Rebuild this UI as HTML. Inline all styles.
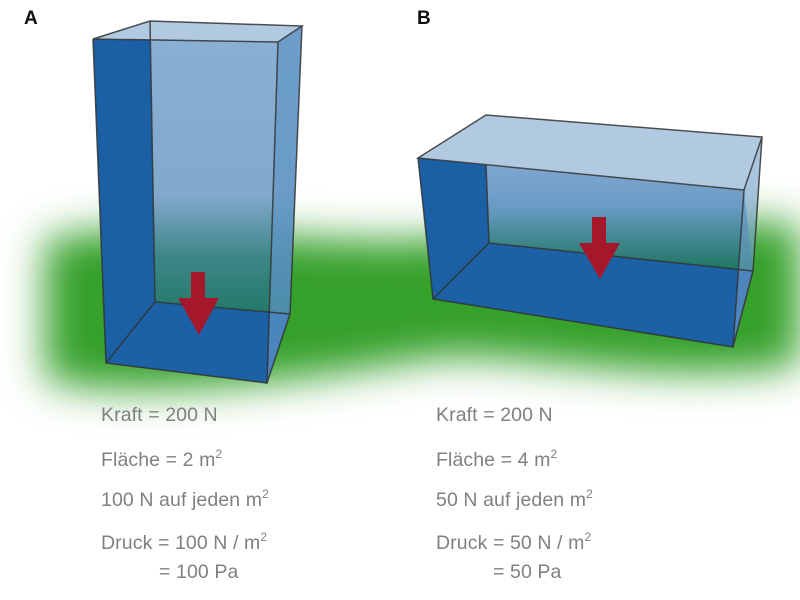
<!DOCTYPE html>
<html><head><style>
body{margin:0;width:800px;height:600px;background:#fff;overflow:hidden;font-family:"Liberation Sans",sans-serif;}
svg{position:absolute;left:0;top:0}
.t{position:absolute;color:#808080;font-size:19.5px;white-space:nowrap;letter-spacing:0.1px}
sup{font-size:12px;vertical-align:8px;line-height:0}
.h{position:absolute;font-weight:bold;font-size:19px;color:#111}
</style></head><body>
<svg width="800" height="600">
<defs>
<filter id="b" x="-20%" y="-60%" width="140%" height="220%"><feGaussianBlur stdDeviation="20"/></filter>
<linearGradient id="ga" x1="0" y1="21" x2="0" y2="314" gradientUnits="userSpaceOnUse">
<stop offset="0" stop-color="#8bb0d5"/><stop offset="0.6" stop-color="#82a8cc"/><stop offset="0.8" stop-color="#3e8788"/><stop offset="1" stop-color="#237868"/></linearGradient>
<linearGradient id="gb" x1="0" y1="165" x2="0" y2="265" gradientUnits="userSpaceOnUse">
<stop offset="0" stop-color="#7ea6cf"/><stop offset="0.4" stop-color="#6b9cc6"/><stop offset="1" stop-color="#237868"/></linearGradient>
</defs>
<path d="M45,240 C150,215 300,245 420,240 C520,235 650,210 800,225 L800,365 C650,390 500,345 420,360 C330,375 150,405 45,380 Z" fill="#35a02c" filter="url(#b)"/>
<!-- Box A -->
<polygon points="150,21 302,26 290,314 155,302" fill="url(#ga)"/>
<polygon points="155,302 290,314 267,383 106,363" fill="#1c60a6"/>
<polygon points="93,39 150,21 155,302 106,363" fill="#1b5fa4"/>
<polygon points="302,26 278,42 267,383 290,314" fill="#5f96c8" opacity="0.7"/>
<polygon points="93,39 150,21 302,26 278,42" fill="#b1c9e1"/>
<g fill="none" stroke="#333" stroke-width="1.5" opacity="0.85">
<polygon points="93,39 150,21 302,26 278,42"/>
<polyline points="93,39 106,363 267,383 278,42"/>
<polyline points="302,26 290,314 267,383"/>
<polyline points="150,21 155,302 290,314"/>
<line x1="155" y1="302" x2="106" y2="363"/>
</g>
<polygon points="191,272 205,272 205,298 219,298 199,335 178,298 191,298" fill="#a5172b"/>
<!-- Box B -->
<polygon points="486,165 744,190 753,271 489,243" fill="url(#gb)"/>
<polygon points="489,243 753,271 733,347 433,299" fill="#1c60a6"/>
<polygon points="418,158 486,165 489,243 433,299" fill="#1b5fa4"/>
<polygon points="762,137 744,190 733,347 753,271" fill="#6f9fcc" opacity="0.6"/>
<polygon points="418,158 486,115 762,137 744,190" fill="#b1c9e1"/>
<g fill="none" stroke="#333" stroke-width="1.5" opacity="0.85">
<polygon points="418,158 486,115 762,137 744,190"/>
<polyline points="418,158 433,299 733,347 744,190"/>
<polyline points="762,137 753,271 733,347"/>
<polyline points="486,165 489,243 753,271"/>
<line x1="489" y1="243" x2="433" y2="299"/>
</g>
<polygon points="592,217 606,217 606,243 620,243 600,279 579,243 592,243" fill="#a5172b"/>
</svg>
<div class="h" style="left:24px;top:8px">A</div>
<div class="h" style="left:417px;top:8px">B</div>
<div class="t" style="left:101px;top:404px">Kraft = 200 N</div>
<div class="t" style="left:101px;top:449px">Fläche = 2 m<sup>2</sup></div>
<div class="t" style="left:101px;top:489px">100 N auf jeden m<sup>2</sup></div>
<div class="t" style="left:101px;top:532px">Druck = 100 N / m<sup>2</sup></div>
<div class="t" style="left:159px;top:561px">= 100 Pa</div>
<div class="t" style="left:436px;top:404px">Kraft = 200 N</div>
<div class="t" style="left:436px;top:449px">Fläche = 4 m<sup>2</sup></div>
<div class="t" style="left:436px;top:489px">50 N auf jeden m<sup>2</sup></div>
<div class="t" style="left:436px;top:532px">Druck = 50 N / m<sup>2</sup></div>
<div class="t" style="left:493px;top:561px">= 50 Pa</div>
</body></html>
